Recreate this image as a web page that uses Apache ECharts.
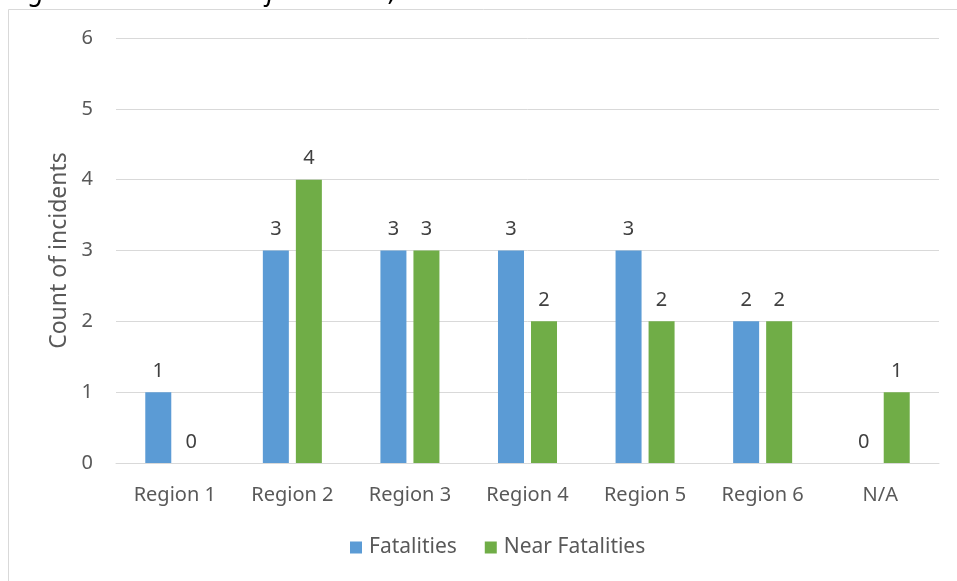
<!DOCTYPE html>
<html>
<head>
<meta charset="utf-8">
<script src="https://cdn.jsdelivr.net/npm/echarts@6/dist/echarts.min.js"></script>
<style>
  html, body { margin: 0; padding: 0; background: #ffffff; }
  #chart { width: 957px; height: 581px; }
</style>
</head>
<body>
<div id="chart"></div>
<script>
// Incidents per region, 2022
const regions = ['Region 1', 'Region 2', 'Region 3', 'Region 4', 'Region 5', 'Region 6', 'N/A'];
const fatalities = [1, 3, 3, 3, 3, 2, 0];
const nearFatalities = [0, 4, 3, 2, 2, 2, 1];
const yTicks = [0, 1, 2, 3, 4, 5, 6];

const FONT = '"Noto Sans", "Open Sans", sans-serif';
const TEXT = '#595959';

const chart = echarts.init(document.getElementById('chart'), null, { renderer: 'canvas' });

const labelStyle = {
  show: true,
  position: 'top',
  distance: 11,
  color: '#404040',
  fontSize: 20,
  fontFamily: FONT
};

chart.setOption({
  animation: false,
  backgroundColor: '#ffffff',
  graphic: [
    {
      type: 'rect',
      shape: { x: 8.5, y: 9.5, width: 960, height: 600 },
      style: { fill: 'none', stroke: '#d9d9d9', lineWidth: 1 },
      silent: true
    },
    {
      type: 'text',
      left: 0,
      top: -21,
      style: {
        text: 'Regional breakdown of incidents, 2022',
        fontFamily: FONT,
        fontStyle: 'italic',
        fontSize: 27,
        fill: '#000000'
      },
      silent: true
    }
  ],
  grid: { left: 116, right: 18, top: 38, bottom: 118 },
  legend: {
    data: ['Fatalities', 'Near Fatalities'],
    bottom: 18,
    left: 345,
    itemWidth: 12,
    itemHeight: 12,
    itemGap: 28,
    icon: 'rect',
    textStyle: { color: TEXT, fontSize: 21, fontFamily: FONT, padding: [0, 0, 0, 2] }
  },
  xAxis: {
    type: 'category',
    data: regions,
    axisLine: { show: true, lineStyle: { color: '#d9d9d9', width: 1 } },
    axisTick: { show: false },
    axisLabel: { color: TEXT, fontSize: 20, fontFamily: FONT, margin: 22 }
  },
  yAxis: {
    type: 'value',
    min: yTicks[0],
    max: yTicks[yTicks.length - 1],
    interval: 1,
    name: 'Count of incidents',
    nameLocation: 'middle',
    nameGap: 44,
    nameRotate: 90,
    nameTextStyle: { color: TEXT, fontSize: 23, fontFamily: FONT },
    axisLine: { show: false },
    axisTick: { show: false },
    axisLabel: { color: TEXT, fontSize: 20, fontFamily: FONT, margin: 23 },
    splitLine: { lineStyle: { color: '#d9d9d9', width: 1 } }
  },
  series: [
    {
      name: 'Fatalities',
      type: 'bar',
      data: fatalities,
      barWidth: 26,
      barGap: '27%',
      itemStyle: { color: '#5b9bd5' },
      label: labelStyle
    },
    {
      name: 'Near Fatalities',
      type: 'bar',
      data: nearFatalities,
      barWidth: 26,
      barGap: '27%',
      itemStyle: { color: '#70ad47' },
      label: labelStyle
    }
  ]
});
</script>
</body>
</html>
